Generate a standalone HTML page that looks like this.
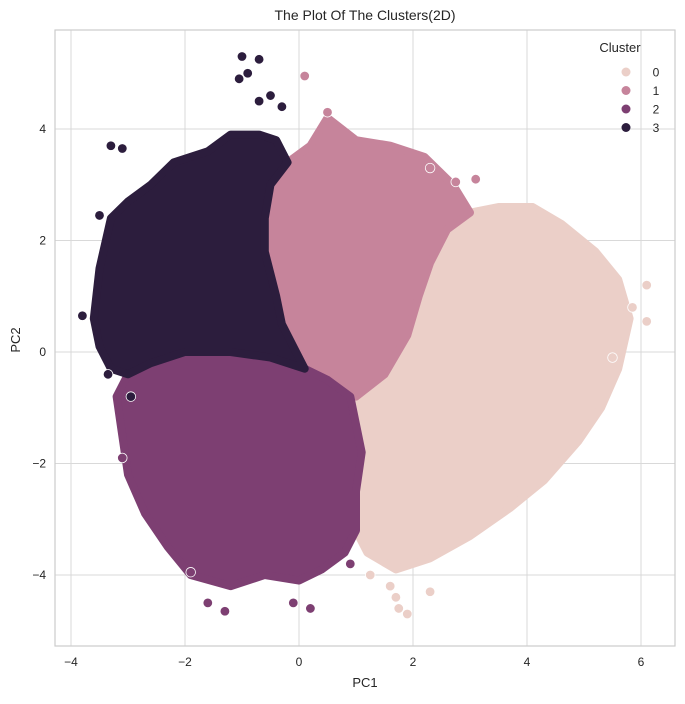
<!DOCTYPE html>
<html><head><meta charset="utf-8"><style>
body{margin:0;background:#fff}
text{font-family:"Liberation Sans","DejaVu Sans",sans-serif;fill:#262626}
</style></head><body>
<svg id="chart" width="685" height="699" xmlns="http://www.w3.org/2000/svg">
<rect width="685" height="699" fill="#fff"/>
<text x="365" y="20" text-anchor="middle" font-size="14">The Plot Of The Clusters(2D)</text>
<g id="grid"></g>
<rect x="55" y="30" width="620" height="616" fill="none" stroke="#cccccc" stroke-width="1.2"/>
<g id="marks"></g>
<g id="ticks"></g>
<text x="365" y="687" text-anchor="middle" font-size="13">PC1</text>
<text transform="translate(20,340) rotate(-90)" text-anchor="middle" font-size="13">PC2</text>
<g id="legend"></g>
</svg>
<script>
const clusterLabels=["0","1","2","3"];
const clusterColors=["#ebcfc8","#c6849b","#7d3f72","#2c1d3d"];
const xTicks=[-4,-2,0,2,4,6];
const yTicks=[-4,-2,0,2,4];
const hull0=[[2.3,1.6],[2.6,2.2],[3.0,2.5],[3.5,2.6],[4.1,2.6],[4.6,2.3],[5.2,1.8],[5.6,1.3],[5.8,0.6],[5.6,-0.3],[5.3,-1.0],[4.9,-1.6],[4.3,-2.3],[3.7,-2.8],[3.0,-3.3],[2.3,-3.7],[1.7,-3.9],[1.2,-3.6],[1.0,-3.2],[1.0,-2.5],[1.1,-1.8],[1.0,-1.3],[0.9,-0.8],[1.5,-0.4],[1.9,0.3],[2.1,1.0]];
const hull1=[[-0.6,2.4],[-0.5,3.0],[-0.2,3.4],[0.2,3.7],[0.5,4.2],[1.0,3.8],[1.6,3.7],[2.2,3.5],[2.7,3.0],[3.0,2.5],[2.6,2.2],[2.3,1.6],[2.1,1.0],[1.9,0.3],[1.5,-0.4],[1.0,-0.8],[0.5,-0.5],[0.1,-0.3],[-0.1,0.1],[-0.3,0.5],[-0.4,1.0],[-0.6,1.8]];
const hull2=[[-3.0,-0.4],[-2.6,-0.2],[-2.0,0.0],[-1.2,0.0],[-0.5,-0.1],[0.1,-0.3],[0.5,-0.5],[0.9,-0.8],[1.0,-1.3],[1.1,-1.8],[1.0,-2.5],[1.0,-3.2],[0.8,-3.6],[0.4,-3.9],[0,-4.1],[-0.6,-4.0],[-1.2,-4.2],[-1.9,-4.0],[-2.3,-3.5],[-2.7,-2.9],[-3.0,-2.2],[-3.1,-1.5],[-3.2,-0.8]];
const hull3=[[-3.6,0.6],[-3.5,1.5],[-3.3,2.4],[-3.0,2.7],[-2.6,3.0],[-2.2,3.4],[-1.6,3.6],[-1.2,3.9],[-0.7,3.9],[-0.4,3.8],[-0.2,3.4],[-0.5,3.0],[-0.6,2.4],[-0.6,1.8],[-0.4,1.0],[-0.3,0.5],[-0.1,0.1],[0.1,-0.3],[-0.5,-0.1],[-1.2,0.0],[-2.0,0.0],[-2.6,-0.2],[-3.0,-0.4],[-3.3,-0.3],[-3.5,0.1]];
const pts0=[[1.9,-4.7],[1.75,-4.6],[1.7,-4.4],[2.3,-4.3],[6.1,1.2],[6.1,0.55],[5.85,0.8],[5.5,-0.1],[1.25,-4.0],[1.6,-4.2]];
const pts1=[[0.1,4.95],[0.5,4.3],[2.3,3.3],[3.1,3.1],[2.75,3.05]];
const pts2=[[-1.9,-3.95],[-1.6,-4.5],[-1.3,-4.65],[-0.1,-4.5],[0.2,-4.6],[-3.1,-1.9],[0.9,-3.8]];
const pts3=[[-1.0,5.3],[-0.7,5.25],[-0.9,5.0],[-1.05,4.9],[-0.7,4.5],[-0.5,4.6],[-0.3,4.4],[-3.3,3.7],[-3.1,3.65],[-3.8,0.65],[-3.5,2.45],[-2.95,-0.8],[-3.35,-0.4]];
const hulls=[hull0,hull1,hull2,hull3];
const pts=[pts0,pts1,pts2,pts3];
const NS="http://www.w3.org/2000/svg";
function sx(v){return 299+v*57;}
function sy(v){return 352-v*55.75;}
function mk(t,a,p){const e=document.createElementNS(NS,t);for(const k in a)e.setAttribute(k,a[k]);p.appendChild(e);return e;}
const grid=document.getElementById('grid'),ticks=document.getElementById('ticks'),marks=document.getElementById('marks');
xTicks.forEach(v=>{
  const l=mk('line',{x1:sx(v),x2:sx(v),y1:30,y2:646,stroke:'#d9d9d9','stroke-width':1},grid);
  
  
  const t=mk('text',{x:sx(v),y:666,'text-anchor':'middle','font-size':12},ticks);
  t.textContent=(v<0?'\u2212'+(-v):v);
  
  
});
yTicks.forEach(v=>{
  const l=mk('line',{x1:55,x2:675,y1:sy(v),y2:sy(v),stroke:'#d9d9d9','stroke-width':1},grid);
  
  
  const t=mk('text',{x:46,y:sy(v)+4,'text-anchor':'end','font-size':12},ticks);
  t.textContent=(v<0?'\u2212'+(-v):v);
  
  
});
[0,1,2,3].forEach(c=>{
  const d=hulls[c].map((p,i)=>(i?'L':'M')+sx(p[0])+','+sy(p[1])).join('')+'Z';
  const poly=mk('path',{d:d,fill:clusterColors[c],stroke:clusterColors[c],'stroke-width':8,'stroke-linejoin':'round'},marks);
  
  
  pts[c].forEach(p=>{
    const ci=mk('circle',{cx:sx(p[0]),cy:sy(p[1]),r:4.8,fill:clusterColors[c],stroke:'#fff','stroke-width':0.8},marks);
    
    
  });
});
const lg=document.getElementById('legend');
const lt=mk('text',{x:620,y:52,'text-anchor':'middle','font-size':13},lg);
lt.textContent='Cluster';


clusterLabels.forEach((lab,i)=>{
  const y=72+i*18.5;
  const c=mk('circle',{cx:626,cy:y,r:4.5,fill:clusterColors[i]},lg);
  
  
  const t=mk('text',{x:656,y:y+4.5,'text-anchor':'middle','font-size':12},lg);
  t.textContent=lab;
  
  
});
</script>
</body></html>
